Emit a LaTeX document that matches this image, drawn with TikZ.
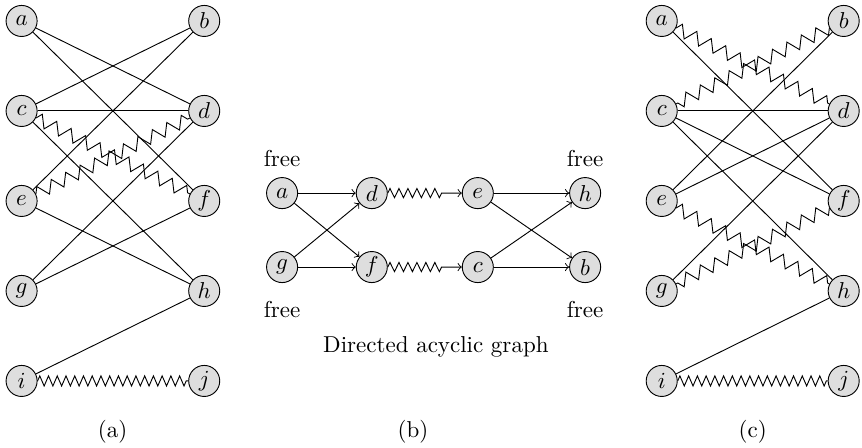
\documentclass[tikz,border=0pt]{standalone}
\usetikzlibrary{positioning,decorations.pathmorphing}
\begin{document}
\begin{tikzpicture}[>=to,
    vtx/.style={circle, draw, fill=black!13, inner sep=0pt, minimum size=13.5pt},
    zig/.style={decorate, decoration={zigzag, segment length=7pt, amplitude=2.7pt}},
    zag/.style={decorate, decoration={zigzag, segment length=3.8pt, amplitude=2.2pt}},
    dagzag/.style={->, decorate, decoration={zigzag, segment length=3.9pt, amplitude=2pt, post length=8.5pt}}]
  \useasboundingbox (0,0) rectangle (13.17,-6.83);

  % (a)
  \node[vtx] (a1) at (0.33,-0.32) {$a$};
  \node[vtx] (b1) at (3.12,-0.32) {$b$};
  \node[vtx] (c1) at (0.33,-1.695) {$c$};
  \node[vtx] (d1) at (3.12,-1.695) {$d$};
  \node[vtx] (e1) at (0.33,-3.07) {$e$};
  \node[vtx] (f1) at (3.12,-3.07) {$f$};
  \node[vtx] (g1) at (0.33,-4.445) {$g$};
  \node[vtx] (h1) at (3.12,-4.445) {$h$};
  \node[vtx] (i1) at (0.33,-5.82) {$i$};
  \node[vtx] (j1) at (3.12,-5.82) {$j$};
  \draw (a1) -- (d1);
  \draw (a1) -- (f1);
  \draw (b1) -- (c1);
  \draw (b1) -- (e1);
  \draw (c1) -- (d1);
  \draw (c1) -- (h1);
  \draw (g1) -- (d1);
  \draw (e1) -- (h1);
  \draw (g1) -- (f1);
  \draw (h1) -- (i1);
  \draw[zig] (c1) -- (f1);
  \draw[zig] (e1) -- (d1);
  \draw[zag] (i1) -- (j1);
  \node (capa) at (1.72,-6.59) {(a)};

  % (b)
  \node[vtx] (a2) at (4.31,-2.95) {$a$};
  \node[vtx] (d2) at (5.68,-2.95) {$d$};
  \node[vtx] (e2) at (7.30,-2.95) {$e$};
  \node[vtx] (h2) at (8.94,-2.95) {$h$};
  \node[vtx] (g2) at (4.31,-4.08) {$g$};
  \node[vtx] (f2) at (5.68,-4.08) {$f$};
  \node[vtx] (c2) at (7.30,-4.08) {$c$};
  \node[vtx] (b2) at (8.94,-4.08) {$b$};
  \node (fa) [above=1pt of a2] {free};
  \node (fh) [above=1pt of h2] {free};
  \node (fg) [below=4.5pt of g2] {free};
  \node (fb) [below=4.5pt of b2] {free};
  \draw[->] (a2) -- (d2);
  \draw[->] (a2) -- (f2);
  \draw[->] (g2) -- (d2);
  \draw[->] (g2) -- (f2);
  \draw[dagzag] (d2) -- (e2);
  \draw[dagzag] (f2) -- (c2);
  \draw[->] (e2) -- (h2);
  \draw[->] (e2) -- (b2);
  \draw[->] (c2) -- (h2);
  \draw[->] (c2) -- (b2);
  \node (dag) at (6.66,-5.30) {Directed acyclic graph};
  \node (capb) at (6.31,-6.59) {(b)};

  % (c)
  \node[vtx] (a3) at (10.11,-0.32) {$a$};
  \node[vtx] (b3) at (12.89,-0.32) {$b$};
  \node[vtx] (c3) at (10.11,-1.695) {$c$};
  \node[vtx] (d3) at (12.89,-1.695) {$d$};
  \node[vtx] (e3) at (10.11,-3.07) {$e$};
  \node[vtx] (f3) at (12.89,-3.07) {$f$};
  \node[vtx] (g3) at (10.11,-4.445) {$g$};
  \node[vtx] (h3) at (12.89,-4.445) {$h$};
  \node[vtx] (i3) at (10.11,-5.82) {$i$};
  \node[vtx] (j3) at (12.89,-5.82) {$j$};
  \draw (a3) -- (f3);
  \draw (b3) -- (e3);
  \draw (c3) -- (d3);
  \draw (c3) -- (f3);
  \draw (c3) -- (h3);
  \draw (d3) -- (e3);
  \draw (d3) -- (g3);
  \draw (h3) -- (i3);
  \draw[zig] (a3) -- (d3);
  \draw[zig] (b3) -- (c3);
  \draw[zig] (e3) -- (h3);
  \draw[zig] (f3) -- (g3);
  \draw[zag] (i3) -- (j3);
  \node (capc) at (11.5,-6.59) {(c)};
\end{tikzpicture}
\end{document}
